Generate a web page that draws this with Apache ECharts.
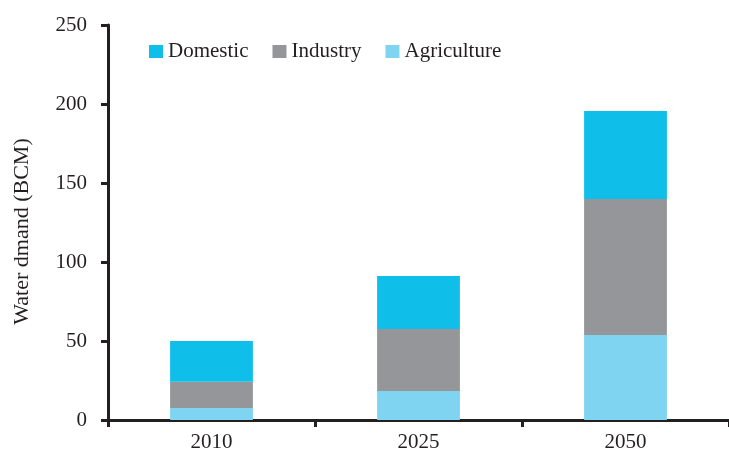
<!DOCTYPE html>
<html>
<head>
<meta charset="utf-8">
<script src="https://cdn.jsdelivr.net/npm/echarts@6/dist/echarts.min.js"></script>
<style>
html,body{margin:0;padding:0;background:#fff;}
#chart{width:729px;height:455px;}
</style>
</head>
<body>
<div id="chart"></div>
<script>
var categories = ['2010', '2025', '2050'];
var agriculture = [7.6, 18.4, 53.8];
var industry = [16.6, 39.2, 86.1];
var domestic = [25.8, 33.5, 55.7];
var yTicks = [0, 50, 100, 150, 200, 250];

var FONT = 'Liberation Serif';
var AX = '#231f20';
var chart = echarts.init(document.getElementById('chart'));
chart.setOption({
  animation: false,
  backgroundColor: '#ffffff',
  textStyle: { fontFamily: FONT },
  legend: {
    data: ['Domestic', 'Industry', 'Agriculture'],
    left: 144,
    top: 36,
    itemWidth: 14,
    itemHeight: 13,
    itemGap: 24,
    icon: 'rect',
    textStyle: { fontFamily: FONT, fontSize: 21, color: '#231f20' }
  },
  grid: { left: 108, right: -10, top: 25, bottom: 35, containLabel: false },
  xAxis: {
    type: 'category',
    data: categories,
    axisLine: { show: true, lineStyle: { color: AX, width: 3 } },
    axisTick: { show: true, alignWithLabel: false, length: 7, lineStyle: { color: AX, width: 3 } },
    axisLabel: { fontFamily: FONT, fontSize: 21, color: '#231f20', margin: 12 }
  },
  yAxis: {
    type: 'value',
    min: yTicks[0],
    max: yTicks[yTicks.length - 1],
    interval: 50,
    name: 'Water dmand (BCM)',
    nameLocation: 'middle',
    nameGap: 75,
    nameTextStyle: { fontFamily: FONT, fontSize: 22, color: '#231f20', padding: [0, 18, 0, 0] },
    splitLine: { show: false },
    axisLine: { show: true, lineStyle: { color: AX, width: 3 } },
    axisTick: { show: true, length: 7, lineStyle: { color: AX, width: 3 } },
    axisLabel: { fontFamily: FONT, fontSize: 21, color: '#231f20', margin: 21 }
  },
  series: [
    { name: 'Agriculture', type: 'bar', stack: 'w', data: agriculture, barWidth: '40%', itemStyle: { color: '#7fd4f1' } },
    { name: 'Industry', type: 'bar', stack: 'w', data: industry, barWidth: '40%', itemStyle: { color: '#959699' } },
    { name: 'Domestic', type: 'bar', stack: 'w', data: domestic, barWidth: '40%', itemStyle: { color: '#0fbfe9' } }
  ]
});
</script>
</body>
</html>
